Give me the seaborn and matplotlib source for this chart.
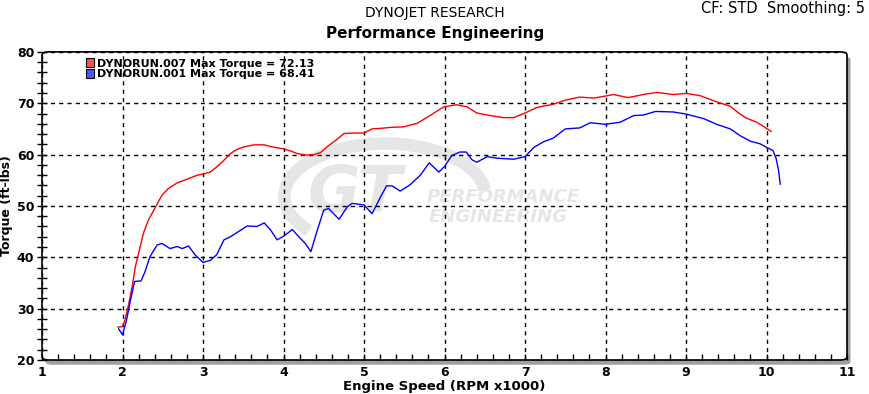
import pandas as pd
import matplotlib.pyplot as plt
import seaborn as sns
from matplotlib.patches import Patch, FancyBboxPatch, Arc
from matplotlib.ticker import MultipleLocator

# run 007 (red)
run007_rpm = [1.94, 2.0, 2.03, 2.07, 2.12, 2.16, 2.2, 2.26, 2.32, 2.41, 2.49, 2.57, 2.68, 2.8,
              2.93, 3.0, 3.09, 3.17, 3.26, 3.34, 3.42, 3.51, 3.63, 3.76, 3.86, 4.0, 4.09, 4.17,
              4.29, 4.38, 4.46, 4.54, 4.65, 4.75, 4.88, 5.0, 5.1, 5.2, 5.33, 5.49, 5.66, 5.82,
              5.99, 6.15, 6.28, 6.4, 6.57, 6.73, 6.86, 7.0, 7.15, 7.35, 7.5, 7.68, 7.85, 8.0,
              8.1, 8.28, 8.47, 8.64, 8.84, 9.0, 9.17, 9.34, 9.55, 9.67, 9.75, 9.88, 10.06]
run007_tq = [26.4, 26.5, 27.8, 30.4, 34.3, 38.2, 40.8, 44.7, 47.2, 49.8, 52.1, 53.4, 54.5, 55.2,
             56.0, 56.2, 56.6, 57.6, 58.9, 60.2, 61.0, 61.5, 61.9, 61.9, 61.5, 61.1, 60.7, 60.2,
             59.9, 60.0, 60.4, 61.5, 62.8, 64.1, 64.2, 64.2, 65.0, 65.1, 65.3, 65.4, 66.1, 67.6,
             69.3, 69.7, 69.3, 68.1, 67.6, 67.2, 67.2, 68.1, 69.2, 69.8, 70.6, 71.2, 71.0, 71.4,
             71.7, 71.1, 71.7, 72.1, 71.7, 71.9, 71.5, 70.5, 69.4, 67.9, 67.1, 66.3, 64.5]

# run 001 (blue)
run001_rpm = [1.95, 2.0, 2.05, 2.1, 2.15, 2.23, 2.28, 2.34, 2.43, 2.49, 2.59, 2.68, 2.74, 2.82,
              2.9, 3.0, 3.09, 3.17, 3.26, 3.34, 3.44, 3.55, 3.67, 3.76, 3.84, 3.92, 4.0, 4.11,
              4.19, 4.27, 4.34, 4.42, 4.5, 4.56, 4.69, 4.79, 4.85, 5.0, 5.1, 5.21, 5.28, 5.35,
              5.45, 5.57, 5.7, 5.81, 5.93, 6.0, 6.09, 6.19, 6.27, 6.34, 6.4, 6.53, 6.65, 6.86,
              7.0, 7.11, 7.23, 7.35, 7.5, 7.68, 7.81, 8.0, 8.18, 8.35, 8.47, 8.62, 8.84, 9.0,
              9.22, 9.38, 9.55, 9.67, 9.8, 9.92, 10.0, 10.08, 10.12, 10.15, 10.17]
run001_tq = [26.1, 24.9, 27.8, 31.7, 35.3, 35.4, 37.2, 40.1, 42.4, 42.7, 41.7, 42.1, 41.7, 42.2,
             40.5, 39.0, 39.4, 40.5, 43.4, 44.0, 45.0, 46.1, 46.0, 46.7, 45.3, 43.4, 44.1, 45.4,
             44.0, 42.7, 41.1, 45.3, 49.2, 49.5, 47.4, 49.8, 50.5, 50.2, 48.5, 51.9, 53.9, 53.9,
             52.9, 54.1, 56.0, 58.4, 56.6, 57.7, 59.8, 60.5, 60.5, 59.0, 58.5, 59.6, 59.3, 59.1,
             59.6, 61.4, 62.5, 63.2, 65.0, 65.2, 66.2, 65.9, 66.3, 67.6, 67.7, 68.4, 68.3, 67.9,
             67.0, 65.9, 65.0, 63.7, 62.6, 62.1, 61.4, 60.8, 59.2, 56.9, 54.2]

run_names = ['DYNORUN.007 Max Torque = 72.13', 'DYNORUN.001 Max Torque = 68.41']
run_colors = ['#ff0000', '#0000ff']

df = pd.concat([
    pd.DataFrame({'rpm': run007_rpm, 'torque': run007_tq, 'run': run_names[0]}),
    pd.DataFrame({'rpm': run001_rpm, 'torque': run001_tq, 'run': run_names[1]}),
])

sns.set_style('white')
plt.rcParams['font.family'] = ['DejaVu Sans']
plt.rcParams.update({'text.color': 'black', 'axes.labelcolor': 'black',
                     'xtick.color': 'black', 'ytick.color': 'black'})

fig = plt.figure(figsize=(8.7, 3.94), dpi=100)
ax = fig.add_axes([0.0483, 0.0863, 0.9253, 0.782])

# drop shadow + rounded frame (behind the axes)
shadow = FancyBboxPatch((0.0483 + 0.004, 0.0863 - 0.012), 0.9253, 0.782,
                        boxstyle='round,pad=0,rounding_size=0.008', transform=fig.transFigure,
                        facecolor='#a0a0a0', edgecolor='none', zorder=-3)
fig.patches.append(shadow)
frame = FancyBboxPatch((0.0483, 0.0863), 0.9253, 0.782,
                       boxstyle='round,pad=0,rounding_size=0.008', transform=fig.transFigure,
                       facecolor='white', edgecolor='black', linewidth=1.2, zorder=-2)
fig.patches.append(frame)
ax.set_facecolor('none')
for s in ax.spines.values():
    s.set_visible(False)

# watermark logo
wm = '#e6e6e6'
ax.add_patch(Arc((5.26, 51.9), 2.5, 20.5, theta1=45, theta2=262,
                 color=wm, linewidth=9, zorder=0))
ax.text(4.3, 48.8, 'GT', fontsize=46, fontweight='bold', fontstyle='italic',
        color=wm, zorder=0)
ax.text(5.78, 50.7, 'PERFORMANCE', fontsize=13, fontweight='bold', fontstyle='italic',
        color=wm, zorder=0)
ax.text(5.8, 46.8, 'ENGINEERING', fontsize=13, fontweight='bold', fontstyle='italic',
        color=wm, zorder=0)

sns.lineplot(data=df, x='rpm', y='torque', hue='run', palette=run_colors,
             sort=False, estimator=None, linewidth=1.0, legend=False, ax=ax, zorder=3)

ax.set_xlim(1, 11)
ax.set_ylim(20, 80)
ax.xaxis.set_major_locator(MultipleLocator(1))
ax.xaxis.set_minor_locator(MultipleLocator(0.2))
ax.yaxis.set_major_locator(MultipleLocator(10))
ax.yaxis.set_minor_locator(MultipleLocator(2))
ax.tick_params(axis='x', which='both', direction='in', length=4, width=1,
               bottom=True, pad=4, labelsize=9)
ax.tick_params(axis='y', which='both', direction='inout', length=7, width=1,
               left=True, pad=2, labelsize=9)
for lbl in ax.get_xticklabels() + ax.get_yticklabels():
    lbl.set_fontweight('bold')

ax.grid(True, which='major', color='black', linestyle=(0, (3, 3)), linewidth=1.0)
ax.set_axisbelow(False)
for gl in ax.get_xgridlines() + ax.get_ygridlines():
    gl.set_zorder(2)

ax.set_xlabel('Engine Speed (RPM x1000)', fontsize=9.5, fontweight='bold', labelpad=1)
ax.set_ylabel('Torque (ft-lbs)', fontsize=9, fontweight='bold', labelpad=3)

handles = [Patch(facecolor=c, edgecolor='black', linewidth=0.8) for c in ['#ff5050', '#5050ff']]
leg = ax.legend(handles, run_names, loc='upper left', bbox_to_anchor=(0.045, 1.005),
                frameon=False, handlelength=0.7, handleheight=0.9, handletextpad=0.3,
                labelspacing=0.0, borderpad=0.2, prop={'weight': 'bold', 'size': 8})

fig.text(0.5, 0.968, 'DYNOJET RESEARCH', ha='center', va='center', fontsize=10)
fig.text(0.5, 0.915, 'Performance Engineering', ha='center', va='center', fontsize=11,
         fontweight='bold')
fig.text(0.994, 0.978, 'CF: STD  Smoothing: 5', ha='right', va='center', fontsize=10.5)

fig.savefig('out.png', dpi=100)
